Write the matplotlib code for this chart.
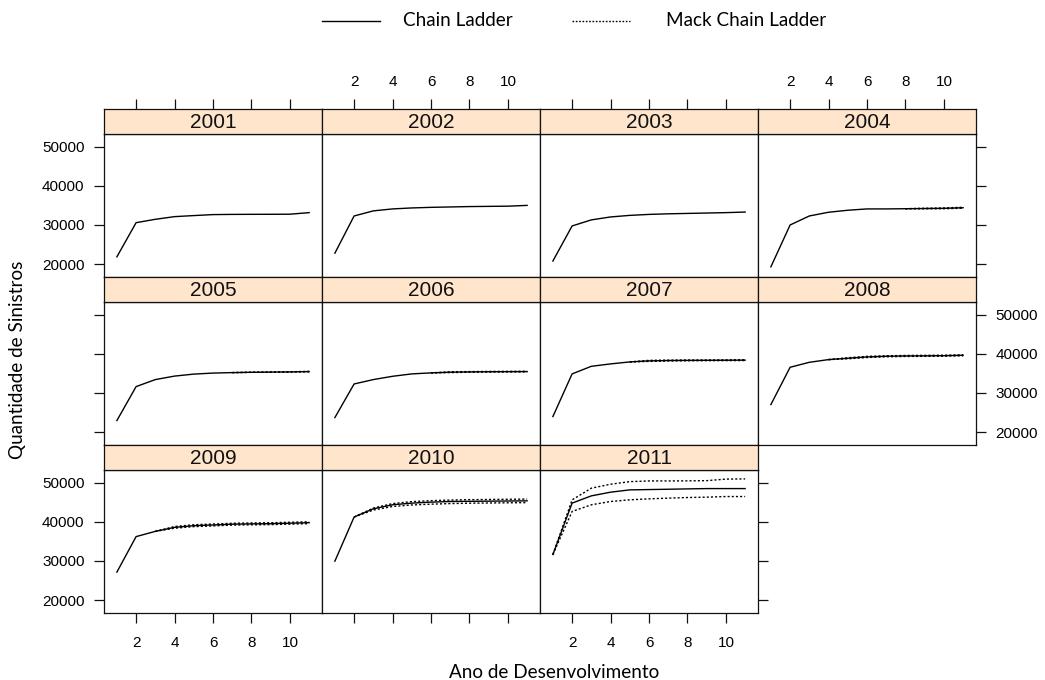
import matplotlib
matplotlib.use("Agg")
import matplotlib.pyplot as plt
from matplotlib.lines import Line2D

# Data
years = [2001, 2002, 2003, 2004, 2005, 2006, 2007, 2008, 2009, 2010, 2011]
dev = [1, 2, 3, 4, 5, 6, 7, 8, 9, 10, 11]

# Chain Ladder full triangle (observed + projected)
cl = [
    [21870, 30590, 31450, 32130, 32400, 32650, 32700, 32720, 32730, 32750, 33150],
    [22800, 32300, 33600, 34100, 34350, 34500, 34600, 34700, 34750, 34800, 35000],
    [20800, 29750, 31300, 32050, 32450, 32700, 32850, 32950, 33050, 33150, 33300],
    [19310, 30000, 32300, 33250, 33760, 34100, 34100, 34150, 34200, 34250, 34400],
    [22960, 31630, 33420, 34310, 34820, 35080, 35200, 35280, 35330, 35380, 35460],
    [23720, 32300, 33420, 34260, 34870, 35130, 35300, 35380, 35420, 35440, 35460],
    [23980, 34870, 36810, 37420, 37930, 38190, 38280, 38320, 38340, 38360, 38380],
    [27040, 36560, 37830, 38520, 38860, 39200, 39370, 39450, 39480, 39520, 39620],
    [27160, 36220, 37560, 38580, 39010, 39190, 39390, 39470, 39520, 39640, 39770],
    [29950, 41220, 43320, 44340, 44770, 45020, 45180, 45230, 45270, 45310, 45350],
    [31650, 44770, 46620, 47560, 48150, 48230, 48310, 48400, 48480, 48480, 48480],
]

# Mack Chain Ladder bands, starting at the last observed development year
mack_start = [None, None, None, 8, 7, 6, 5, 4, 3, 2, 1]
mack_hi = [
    None, None, None,
    [34150, 34280, 34350, 34520],
    [35200, 35290, 35360, 35420, 35520],
    [35130, 35420, 35460, 35500, 35520, 35550],
    [37930, 38330, 38400, 38420, 38440, 38460, 38480],
    [38520, 39000, 39350, 39500, 39580, 39610, 39650, 39750],
    [37560, 38800, 39250, 39430, 39620, 39710, 39760, 39880, 40010],
    [41220, 43500, 44650, 45150, 45400, 45550, 45650, 45700, 45750, 45800],
    [31650, 45600, 48580, 49590, 50250, 50430, 50430, 50450, 50500, 50900, 50950],
]
mack_lo = [
    None, None, None,
    [34150, 34120, 34150, 34280],
    [35200, 35270, 35300, 35340, 35400],
    [35130, 35200, 35300, 35340, 35360, 35380],
    [37930, 38050, 38160, 38220, 38240, 38260, 38280],
    [38520, 38720, 39050, 39240, 39320, 39350, 39390, 39490],
    [37560, 38360, 38770, 38950, 39160, 39230, 39280, 39400, 39530],
    [41220, 43000, 43900, 44300, 44500, 44650, 44750, 44800, 44850, 44900],
    [31650, 42640, 44340, 45180, 45610, 45860, 46040, 46200, 46290, 46450, 46450],
]

xticks = [2, 4, 6, 8, 10]
yticks = [20000, 30000, 40000, 50000]

W, H = 1045, 680
fig = plt.figure(figsize=(W / 100, H / 100), dpi=100)


def box(x, y, w, h):
    return [x / W, 1 - (y + h) / H, w / W, h / H]


tick_font = dict(family="Liberation Sans", size=11)
lab_font = dict(family="Lato", size=13.6)
strip_col = "#ffe5cc"
dots = (0, (1.5, 1.5))

for i, yr in enumerate(years):
    r, c = divmod(i, 4)
    x0 = 104 + 218 * c
    top = 108.5 + 168 * r
    ax = fig.add_axes(box(x0, top + 25, 218, 143))
    st = fig.add_axes(box(x0, top, 218, 25))

    ax.plot(dev, cl[i], color="black", lw=1.0)
    if mack_start[i] is not None:
        xs = dev[mack_start[i] - 1:]
        ax.plot(xs, mack_hi[i], color="black", lw=1.0, linestyle=dots)
        ax.plot(xs, mack_lo[i], color="black", lw=1.0, linestyle=dots)

    for a in (ax, st):
        a.set_xlim(0.33, 11.67)
        for s in a.spines.values():
            s.set_linewidth(0.9)
            s.set_color("#111111")
        a.tick_params(direction="out", length=7, width=0.9, color="#111111",
                      pad=7, labelsize=11)
        a.set_xticks([])
        a.set_yticks([])
    ax.set_ylim(16850, 53350)

    st.set_facecolor(strip_col)
    st.set_ylim(0, 1)
    st.text(6, 0.45, str(yr), ha="center", va="center",
            family="Liberation Sans", size=15, color="#111111")

    # top axis on first row (on the strip)
    if r == 0:
        st.set_xticks(xticks)
        st.xaxis.set_ticks_position("top")
        st.tick_params(axis="x", labeltop=(c % 2 == 1), labelbottom=False)
        if c % 2 == 1:
            st.set_xticklabels([str(t) for t in xticks], **tick_font)

    # bottom axis on last row
    if r == 2:
        ax.set_xticks(xticks)
        ax.tick_params(axis="x", labelbottom=(c % 2 == 0), pad=10)
        if c % 2 == 0:
            ax.set_xticklabels([str(t) for t in xticks], **tick_font)

    # left axis on first column
    if c == 0:
        ax.set_yticks(yticks)
        ax.tick_params(axis="y", left=True, labelleft=(r != 1))
        if r != 1:
            ax.set_yticklabels([str(t) for t in yticks], **tick_font)

    # right axis on last panel of each row
    if c == 3 or i == len(years) - 1:
        if c != 0:
            ax.set_yticks(yticks)
        ax.tick_params(axis="y", right=True, left=(c == 0),
                       labelright=(r == 1), labelleft=(c == 0 and r != 1))
        if r == 1:
            ax.set_yticklabels([str(t) for t in yticks], **tick_font)

# legend on top
fig.add_artist(Line2D([322 / W, 380 / W], [1 - 21 / H, 1 - 21 / H],
                      color="black", lw=1.0, transform=fig.transFigure))
fig.text(403 / W, 1 - 21 / H, "Chain Ladder", va="center", ha="left", **lab_font)
fig.add_artist(Line2D([572 / W, 630 / W], [1 - 21 / H, 1 - 21 / H],
                      color="black", lw=1.0, linestyle=(0, (1.2, 1.2)),
                      transform=fig.transFigure))
fig.text(666 / W, 1 - 21 / H, "Mack Chain Ladder", va="center", ha="left", **lab_font)

# axis titles
fig.text(18 / W, 1 - 360 / H, "Quantidade de Sinistros", rotation=90,
         va="center", ha="center", **lab_font)
fig.text(554 / W, 1 - 673 / H, "Ano de Desenvolvimento", va="center",
         ha="center", **lab_font)

fig.savefig("out.png", dpi=100)
